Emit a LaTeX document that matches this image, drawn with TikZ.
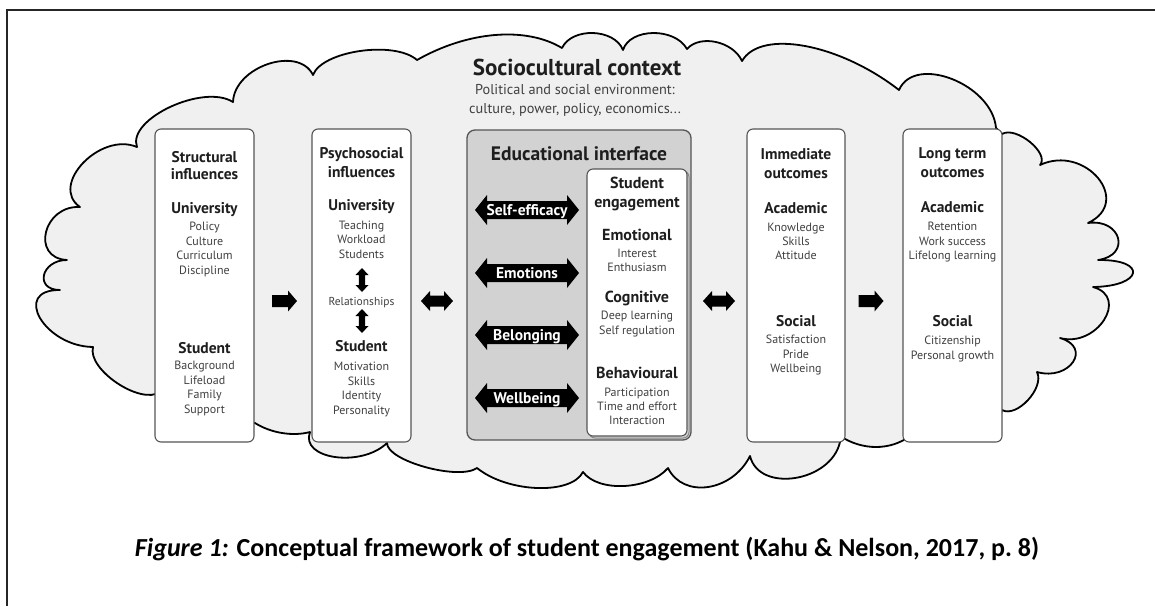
\documentclass[tikz,border=0pt]{standalone}
\usepackage{fontspec}
\setmainfont{PT Sans}
\newfontfamily\capfont{Carlito}
\usetikzlibrary{calc}
\definecolor{cloudfill}{HTML}{F0F0F0}
\definecolor{edufill}{HTML}{D2D2D2}
\definecolor{boxline}{HTML}{555555}
\definecolor{itemcol}{HTML}{404040}
\definecolor{headcol}{HTML}{1E1E1E}
\newcommand\bmp[4]{.. controls ($ {1/3-#4}*(#1) + {#4-2/3}*(#3) + {4/3}*(#2) $) and ($ {1/3-#4}*(#3) + {#4-2/3}*(#1) + {4/3}*(#2) $) .. (#3)}
\newcommand\hdarr[6]{\fill[black,shift={(#1,#2)}] (-#3,0) -- (-#3+#6,-#4) -- (-#3+#6,-#5) -- (#3-#6,-#5) -- (#3-#6,-#4) -- (#3,0) -- (#3-#6,#4) -- (#3-#6,#5) -- (-#3+#6,#5) -- (-#3+#6,#4) -- cycle;}
\newcommand\vdarr[6]{\fill[black,shift={(#1,#2)}] (0,-#3) -- (-#4,-#3+#6) -- (-#5,-#3+#6) -- (-#5,#3-#6) -- (-#4,#3-#6) -- (0,#3) -- (#4,#3-#6) -- (#5,#3-#6) -- (#5,-#3+#6) -- (#4,-#3+#6) -- cycle;}
\newcommand\rarr[6]{\fill[black,shift={(#1,#2)}] (-#3,-#5) -- (#3-#6,-#5) -- (#3-#6,-#4) -- (#3,0) -- (#3-#6,#4) -- (#3-#6,#5) -- (-#3,#5) -- cycle;}
\tikzset{
  cloud/.style={fill=cloudfill, draw=black, line width=1.8pt, line join=round},
  wbox/.style={draw=boxline, fill=white, line width=1.1pt, rounded corners=6pt, inner sep=0pt},
  ebox/.style={draw=boxline, fill=edufill, line width=1.3pt, rounded corners=8pt, inner sep=0pt},
  hd/.style={inner sep=0pt, anchor=base, text=headcol, font=\bfseries\fontsize{15.5}{17}\selectfont},
  sub/.style={inner sep=0pt, anchor=base, text=headcol, font=\bfseries\fontsize{15.5}{17}\selectfont},
  sub2/.style={inner sep=0pt, anchor=base, text=headcol, font=\bfseries\fontsize{16}{18}\selectfont},
  itm/.style={inner sep=0pt, anchor=base, text=itemcol, font=\fontsize{12}{13}\selectfont},
  alab/.style={inner sep=0pt, anchor=base, text=white, font=\bfseries\fontsize{15.5}{17}\selectfont},
}
\begin{document}
\begin{tikzpicture}[x=1pt,y=-1pt]
\useasboundingbox (0,0) rectangle (1155,606);
% frame
\draw[line width=1.3pt, color=black!85] (7,606) -- (7,10) -- (1155,10);
% cloud
\draw[cloud] (160,392) \bmp{160,392}{117,383}{93,347}{0.1}
 \bmp{93,347}{40,318}{60,290}{0}
 \bmp{60,290}{44,275}{67,260}{0}
 \bmp{67,260}{46,232}{80,207}{0}
 \bmp{80,207}{83,163}{137,147}{0.05}
 \bmp{137,147}{170,107}{233,102}{0.1}
 \bmp{233,102}{268,64}{313,75}{0.1}
 \bmp{313,75}{360,51}{417,60}{0.15}
 \bmp{417,60}{495,35}{562,48}{0.3}
 \bmp{562,48}{593,33}{623,50}{0.15}
 \bmp{623,50}{653,33}{687,49}{0.15}
 \bmp{687,49}{716,42}{742,61}{0.2}
 \bmp{742,61}{805,46}{899,90}{0.25}
 \bmp{899,90}{952,79}{996,128}{0.1}
 -- (1002,134)
 \bmp{1002,134}{1030,142}{1040,165}{0.05}
 \bmp{1040,165}{1098,178}{1088,223}{0}
 \bmp{1088,223}{1118,238}{1098,260}{0}
 \bmp{1098,260}{1133,273}{1093,287}{0}
 \bmp{1093,287}{1104,320}{1060,338}{0}
 \bmp{1060,338}{1073,362}{1037,372}{0}
 \bmp{1037,372}{1028,400}{1002,410}{0.1}
 -- (995,436) -- (910,436)
 \bmp{910,436}{876,447}{840,436}{0.3}
 -- (840,442)
 \bmp{840,442}{795,478}{750,456}{0.1}
 \bmp{750,456}{708,487}{668,468}{0.2}
 \bmp{668,468}{624,486}{583,472}{0.2}
 \bmp{583,472}{537,488}{477,468}{0.2}
 \bmp{477,468}{425,467}{387,443}{0.1}
 \bmp{387,443}{335,457}{310,432}{0.1}
 \bmp{310,432}{282,433}{255,423}{0.3}
 -- (200,425) -- cycle;
% title
\node[inner sep=0pt, anchor=base, text=headcol, font=\bfseries\fontsize{23}{25}\selectfont] (title) at (577,75) {Sociocultural context};
\node[itm, font=\fontsize{14.3}{16}\selectfont] (sub1) at (575,94) {Political and social environment:};
\node[itm, font=\fontsize{14.3}{16}\selectfont] (sub2) at (575,113) {culture, power, policy, economics...};
% boxes
\node[wbox, minimum width=99pt, minimum height=313pt] (sbox) at (204.5,285.5) {};
\node[wbox, minimum width=99pt, minimum height=313pt] (pbox) at (361.5,285.5) {};
\node[ebox, minimum width=224pt, minimum height=310pt] (ebox) at (579,285) {};
\draw[boxline!70, line width=1pt, rounded corners=6pt] (589,171) rectangle (689,438);
\node[wbox, minimum width=100pt, minimum height=267pt] (ibox) at (637,302.5) {};
\node[wbox, minimum width=98pt, minimum height=313pt] (obox) at (796,285.5) {};
\node[wbox, minimum width=99pt, minimum height=313pt] (lbox) at (952.5,285.5) {};
% structural
\node[hd] (s1) at (204.5,162.5) {Structural};
\node[hd] (s2) at (204.5,179.5) {influences};
\node[sub] (s3) at (204.5,213.5) {University};
\node[itm] (s4) at (204.5,230) {Policy};
\node[itm] (s5) at (204.5,245) {Culture};
\node[itm] (s6) at (204.5,259) {Curriculum};
\node[itm] (s7) at (204.5,274) {Discipline};
\node[sub] (s8) at (204.5,353.5) {Student};
\node[itm] (s9) at (204.5,369) {Background};
\node[itm] (s10) at (204.5,384) {Lifeload};
\node[itm] (s11) at (204.5,398) {Family};
\node[itm] (s12) at (204.5,413) {Support};
% psychosocial
\node[hd] (p1) at (361.5,158.5) {Psychosocial};
\node[hd] (p2) at (361.5,177.5) {influences};
\node[sub] (p3) at (361.5,210.5) {University};
\node[itm] (p4) at (361.5,229) {Teaching};
\node[itm] (p5) at (361.5,243) {Workload};
\node[itm] (p6) at (361.5,258) {Students};
\vdarr{362}{280}{12}{6.5}{3.2}{7}
\node[itm, font=\fontsize{11.5}{12}\selectfont] (p7) at (361.5,305.5) {Relationships};
\vdarr{362}{321}{12}{6.5}{3.2}{7}
\node[sub] (p8) at (361.5,351.5) {Student};
\node[itm] (p9) at (361.5,370) {Motivation};
\node[itm] (p10) at (361.5,385) {Skills};
\node[itm] (p11) at (361.5,399) {Identity};
\node[itm] (p12) at (361.5,414) {Personality};
% educational interface
\node[inner sep=0pt, anchor=base, text=headcol, font=\bfseries\fontsize{19.5}{21}\selectfont] (e0) at (579,160) {Educational interface};
\hdarr{527}{210}{52}{15}{9}{12}
\node[alab] (a1) at (527,215) {Self-efficacy};
\hdarr{527}{273}{52}{15}{9}{12}
\node[alab] (a2) at (527,278) {Emotions};
\hdarr{527}{335}{52}{15}{9}{12}
\node[alab] (a3) at (527,340) {Belonging};
\hdarr{527}{398}{52}{15}{9}{12}
\node[alab] (a4) at (527,403) {Wellbeing};
\node[sub2] (i1) at (637,188.5) {Student};
\node[sub2] (i2) at (637,207.5) {engagement};
\node[sub2] (i3) at (637,240.5) {Emotional};
\node[itm] (i4) at (637,257) {Interest};
\node[itm] (i5) at (637,271) {Enthusiasm};
\node[sub2] (i6) at (637,302.5) {Cognitive};
\node[itm] (i7) at (637,319) {Deep learning};
\node[itm] (i8) at (637,334) {Self regulation};
\node[sub2] (i9) at (637,378.5) {Behavioural};
\node[itm] (i10) at (637,396) {Participation};
\node[itm] (i11) at (637,410) {Time and effort};
\node[itm] (i12) at (637,424) {Interaction};
% immediate outcomes
\node[hd] (o1) at (796,159.5) {Immediate};
\node[hd] (o2) at (796,178.5) {outcomes};
\node[sub] (o3) at (796,213.5) {Academic};
\node[itm] (o4) at (796,231) {Knowledge};
\node[itm] (o5) at (796,245) {Skills};
\node[itm] (o6) at (796,259) {Attitude};
\node[sub] (o7) at (796,326.5) {Social};
\node[itm] (o8) at (796,343) {Satisfaction};
\node[itm] (o9) at (796,358) {Pride};
\node[itm] (o10) at (796,372) {Wellbeing};
% long term outcomes
\node[hd] (l1) at (952.5,158.5) {Long term};
\node[hd] (l2) at (952.5,177.5) {outcomes};
\node[sub] (l3) at (952.5,212.5) {Academic};
\node[itm] (l4) at (952.5,230) {Retention};
\node[itm] (l5) at (952.5,245) {Work success};
\node[itm] (l6) at (952.5,259) {Lifelong learning};
\node[sub] (l7) at (952.5,326.5) {Social};
\node[itm] (l8) at (952.5,344) {Citizenship};
\node[itm] (l9) at (952.5,359) {Personal growth};
% arrows between boxes
\rarr{284.5}{301}{12.5}{10.5}{6}{9}
\hdarr{437}{301}{16}{10}{5.5}{9}
\hdarr{719}{301}{16}{10}{5.5}{9}
\rarr{871}{301}{12.5}{10.5}{6}{9}
% caption
\node[inner sep=0pt, anchor=base, font=\capfont\bfseries\fontsize{26}{28}\selectfont] (cap) at (587,556) {\textit{Figure 1:} Conceptual framework of student engagement (Kahu \& Nelson, 2017, p.~8)};
\end{tikzpicture}
\end{document}
